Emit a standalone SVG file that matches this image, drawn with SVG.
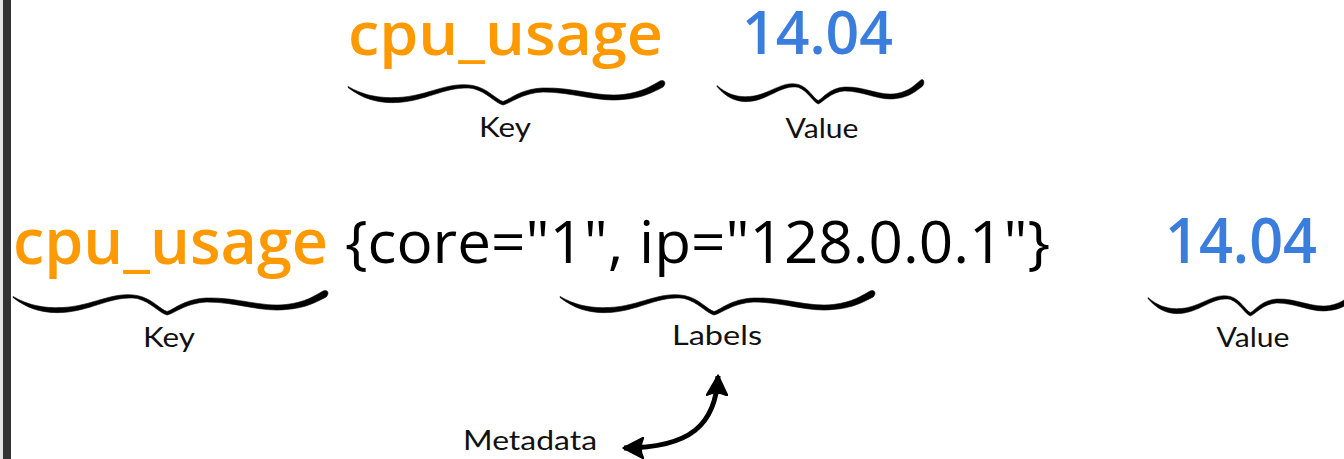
<svg xmlns="http://www.w3.org/2000/svg" xmlns:xlink="http://www.w3.org/1999/xlink" width="1344" height="459" viewBox="0 0 1344 459">
  <style>
    .big { font-family: "Open Sans", "Noto Sans", "Liberation Sans", sans-serif; font-size: 64px; }
    .top { font-size: 60px; }
    .key { fill: #ff9900; font-weight: 600; }
    .val { fill: #3b7ddd; font-weight: 600; }
    .lbl { fill: #000; font-weight: 400; font-size: 58px; }
    .small { font-family: "Lato", "Noto Sans", "Liberation Sans", sans-serif; font-size: 26px; fill: #111; text-anchor: middle; }
    .brace { fill: #000; stroke: #000; stroke-width: 0.6; stroke-linejoin: round; }
    .conn { fill: none; stroke: #000; stroke-width: 5; }
  </style>
  <defs>
    <path id="brace" class="brace" d="M0,-0.5 C15,8 30,11.5 50,10.5 C80,9 100,-6 125,-1.5 C140,1.5 148,12.5 155,14.5 C162,12.5 172,2 195,1 C225,0 250,10.5 275,7.5 C295,5 303,-1 312,-6 C316,-8 319,-4 315,0 C305,5 295,11 275,12.5 C250,15.5 225,5 195,5 C174,6 163,16 155,18 C147,16 139,5 125,1.5 C100,-2 80,13.5 50,15.5 C30,16.5 15,12 0,0.5 Z"/>
    <marker id="head" viewBox="0 0 22 22" refX="20" refY="11" markerWidth="22" markerHeight="22" markerUnits="userSpaceOnUse" orient="auto-start-reverse">
      <path d="M0,0 L21,11 L0,22 Q6,11 0,0 Z" fill="#000" stroke="#000" stroke-width="1.5" stroke-linejoin="round"/>
    </marker>
  </defs>

  <rect x="0" y="0" width="1344" height="459" fill="#ffffff"/>
  <rect x="0" y="0" width="3" height="459" fill="#e4e4e4"/>
  <rect x="3" y="0" width="8" height="459" fill="#333333"/>

  <g id="top-key">
    <text class="big top key" x="348" y="55" textLength="315" lengthAdjust="spacingAndGlyphs">cpu_usage</text>
    <use xlink:href="#brace" transform="translate(348,87)"/>
    <text class="small" x="505" y="137" textLength="52" lengthAdjust="spacingAndGlyphs">Key</text>
  </g>

  <g id="top-value">
    <text class="big top val" x="742" y="54" textLength="151" lengthAdjust="spacingAndGlyphs">14.04</text>
    <use xlink:href="#brace" transform="translate(717,86) scale(0.653,1)"/>
    <text class="small" x="822" y="138" textLength="73" lengthAdjust="spacingAndGlyphs">Value</text>
  </g>

  <g id="bottom-key">
    <text class="big key" x="13" y="264" textLength="315" lengthAdjust="spacingAndGlyphs">cpu_usage</text>
    <use xlink:href="#brace" transform="translate(13,297) scale(0.994,1)"/>
    <text class="small" x="169" y="347" textLength="52" lengthAdjust="spacingAndGlyphs">Key</text>
  </g>

  <g id="labels">
    <text class="big lbl" x="345" y="263" textLength="705" lengthAdjust="spacingAndGlyphs">{core="1", ip="128.0.0.1"}</text>
    <use xlink:href="#brace" transform="translate(560,297) scale(0.994,1)"/>
    <text class="small" x="717" y="345" textLength="90" lengthAdjust="spacingAndGlyphs">Labels</text>
  </g>

  <g id="bottom-value">
    <text class="big val" x="1165" y="263" textLength="152" lengthAdjust="spacingAndGlyphs">14.04</text>
    <use xlink:href="#brace" transform="translate(1148,298) scale(0.66,1)"/>
    <text class="small" x="1253" y="347" textLength="73" lengthAdjust="spacingAndGlyphs">Value</text>
  </g>

  <g id="metadata">
    <text class="small" x="530" y="450" textLength="134" lengthAdjust="spacingAndGlyphs">Metadata</text>
  </g>

  <g id="connectors">
    <path class="conn" d="M624,448 C690,448 716,425 718,376" marker-start="url(#head)" marker-end="url(#head)"/>
  </g>
</svg>
